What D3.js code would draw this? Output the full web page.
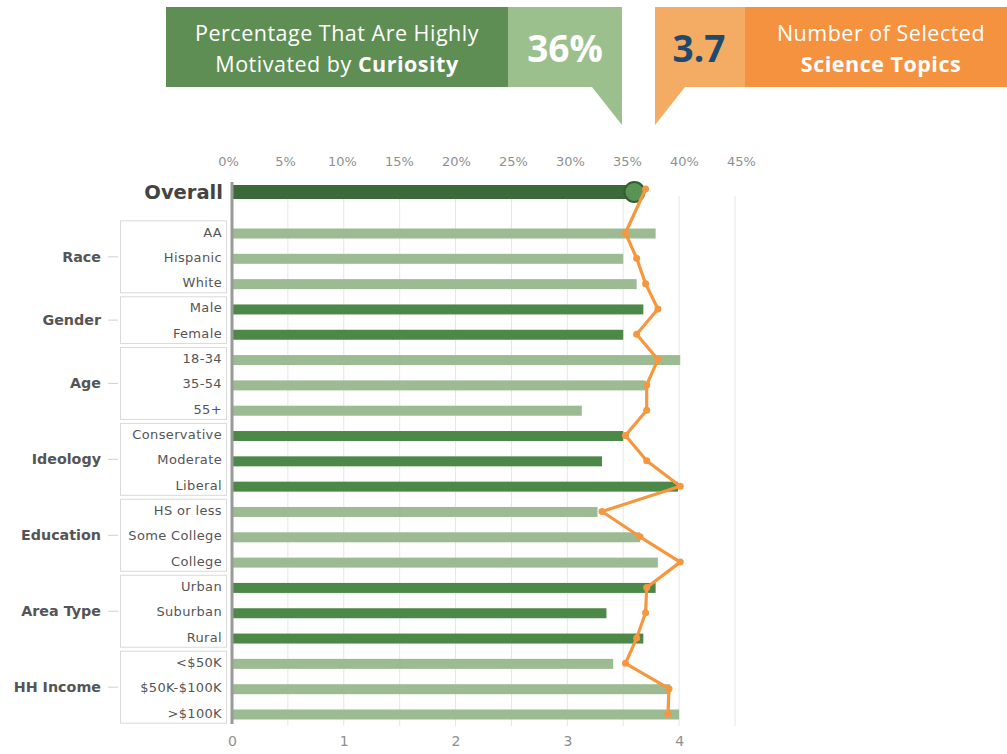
<!DOCTYPE html>
<html>
<head>
<meta charset="utf-8">
<script src="https://cdn.jsdelivr.net/npm/d3@7"></script>
<style>
  html, body { margin: 0; padding: 0; background: #fff; }
  svg { display: block; font-family: "DejaVu Sans", sans-serif; }
</style>
</head>
<body>
<svg id="chart" width="1007" height="754"></svg>
<script>
// Survey groups and their subgroups
const groups = ["Race", "Gender", "Age", "Ideology", "Education", "Area Type", "HH Income"];
const groupMembers = [
  ["AA", "Hispanic", "White"],
  ["Male", "Female"],
  ["18-34", "35-54", "55+"],
  ["Conservative", "Moderate", "Liberal"],
  ["HS or less", "Some College", "College"],
  ["Urban", "Suburban", "Rural"],
  ["<$50K", "$50K-$100K", ">$100K"]
];
const categories = groupMembers.flat();

// Share highly motivated by curiosity (%)
const overallPct = 36;
const curiosityPct = [37.9, 35.0, 36.2, 36.8, 35.0, 40.1, 37.0, 31.3, 35.0, 33.1, 39.9,
                      32.7, 36.5, 38.1, 37.9, 33.5, 36.8, 34.1, 39.2, 40.0];

// Average number of selected science topics
const overallTopics = 3.7;
const topicCounts = [3.52, 3.62, 3.70, 3.81, 3.62, 3.81, 3.71, 3.71, 3.52, 3.71, 4.01,
                     3.31, 3.65, 4.01, 3.71, 3.70, 3.62, 3.52, 3.91, 3.90];

const pctTicks = [0, 5, 10, 15, 20, 25, 30, 35, 40, 45];
const countTicks = [0, 1, 2, 3, 4];
const gridTicks = [0.5, 1, 1.5, 2, 2.5, 3, 3.5, 4, 4.5];

const svg = d3.select("#chart");
const x0 = 232, x1 = 735;
const xPct = d3.scaleLinear().domain([0, 45]).range([x0, x1]);
// the percent tick row is laid out slightly wider than the plot
const xPctLabels = d3.scaleLinear().domain([0, 45]).range([228, 741]);
const xCnt = d3.scaleLinear().domain([0, 4.5]).range([x0, x1]);
const y = d3.scalePoint().domain(categories).range([233, 714]);
const step = y.step();
const yOverall = 192;

const darkGreen = "#3d6a3a", midGreen = "#4c8848", lightGreen = "#9dbb92";
const orange = "#f6963f";
const headFont = "'Open Sans', sans-serif";

// ---------- Header callouts ----------
const head = svg.append("g").style("font-family", headFont);
head.append("rect").attr("x", 166).attr("y", 7).attr("width", 342).attr("height", 80).attr("fill", "#5e8e53");
head.append("path").attr("d", "M508,7 H622 V125 L592,87 H508 Z").attr("fill", "#9cbf8e");
head.append("text").attr("x", 337).attr("y", 41).attr("text-anchor", "middle")
  .attr("fill", "#fff").style("font-size", "21.5px").style("letter-spacing", "0.5px")
  .text("Percentage That Are Highly");
const t1b = head.append("text").attr("x", 337).attr("y", 72).attr("text-anchor", "middle")
  .attr("fill", "#fff").style("font-size", "21.5px").style("letter-spacing", "0.5px");
t1b.append("tspan").text("Motivated by ");
t1b.append("tspan").attr("font-weight", "bold").text("Curiosity");
head.append("text").attr("x", 565).attr("y", 62).attr("text-anchor", "middle").attr("fill", "#fff")
  .attr("font-weight", "bold").style("font-size", "37px").text(overallPct + "%");

head.append("path").attr("d", "M655,7 H745 V87 H685 L655,125 Z").attr("fill", "#f4ab63");
head.append("rect").attr("x", 745).attr("y", 7).attr("width", 262).attr("height", 80).attr("fill", "#f5923f");
head.append("text").attr("x", 699).attr("y", 62).attr("text-anchor", "middle").attr("fill", "#1f4a6e")
  .attr("font-weight", "bold").style("font-size", "37px").text(overallTopics.toFixed(1));
head.append("text").attr("x", 881).attr("y", 41).attr("text-anchor", "middle").attr("fill", "#fff")
  .style("font-size", "21.5px").style("letter-spacing", "0.5px").text("Number of Selected");
head.append("text").attr("x", 881).attr("y", 72).attr("text-anchor", "middle").attr("fill", "#fff")
  .attr("font-weight", "bold").style("font-size", "21.5px").style("letter-spacing", "0.5px")
  .text("Science Topics");

// ---------- Gridlines ----------
svg.append("g").selectAll("line").data(gridTicks).join("line")
  .attr("x1", d => xCnt(d)).attr("x2", d => xCnt(d))
  .attr("y1", 196).attr("y2", 726)
  .attr("stroke", "#e6e6e6").attr("stroke-width", 1);

// ---------- Axes ----------
const topAxis = d3.axisTop(xPctLabels).tickValues(pctTicks).tickFormat(d => d + "%").tickSize(0).tickPadding(0);
const gTop = svg.append("g").attr("transform", "translate(0,166)").call(topAxis);
gTop.select(".domain").remove();
gTop.selectAll("text").attr("fill", "#8f8f8f").style("font-size", "13px")
  .style("font-family", "'DejaVu Sans', sans-serif");

const botAxis = d3.axisBottom(xCnt).tickValues(countTicks).tickFormat(d3.format("d")).tickSize(0).tickPadding(0);
const gBot = svg.append("g").attr("transform", "translate(0,736)").call(botAxis);
gBot.select(".domain").remove();
gBot.selectAll("text").attr("fill", "#8f8f8f").style("font-size", "14px")
  .style("font-family", "'DejaVu Sans', sans-serif");

// ---------- Group boxes and labels ----------
const gGroups = svg.append("g");
groups.forEach((g, i) => {
  const mem = groupMembers[i];
  const top = y(mem[0]) - step / 2 + 0.5;
  const bot = y(mem[mem.length - 1]) + step / 2 - 3.5;
  gGroups.append("rect").attr("x", 120.5).attr("y", top).attr("width", 106).attr("height", bot - top)
    .attr("fill", "none").attr("stroke", "#d9d9d9").attr("stroke-width", 1);
  const mid = (top + bot) / 2;
  gGroups.append("line").attr("x1", 108).attr("x2", 118).attr("y1", mid).attr("y2", mid)
    .attr("stroke", "#d0d0d0").attr("stroke-width", 1);
  gGroups.append("text").attr("x", 101).attr("y", mid).attr("dy", "0.35em").attr("text-anchor", "end")
    .attr("fill", "#555").attr("font-weight", "bold").style("font-size", "14.3px").text(g);
});

svg.append("g").selectAll("text").data(categories).join("text")
  .attr("x", 222).attr("y", d => y(d) - 1).attr("dy", "0.35em").attr("text-anchor", "end")
  .attr("fill", "#555").style("font-size", "13px").style("letter-spacing", "0.35px").text(d => d);

svg.append("text").attr("x", 223).attr("y", yOverall).attr("dy", "0.35em").attr("text-anchor", "end")
  .attr("fill", "#444").attr("font-weight", "bold").style("font-size", "19.5px").text("Overall");

// ---------- Bars ----------
const groupIndex = {};
groupMembers.forEach((m, i) => m.forEach(c => groupIndex[c] = i));
svg.append("g").selectAll("rect").data(categories).join("rect")
  .attr("x", x0).attr("y", d => y(d) - 4.5)
  .attr("width", (d, i) => xPct(curiosityPct[i]) - x0).attr("height", 10)
  .attr("fill", d => groupIndex[d] % 2 === 0 ? lightGreen : midGreen);

svg.append("rect").attr("x", x0).attr("y", yOverall - 7).attr("width", xPct(overallPct) - x0).attr("height", 14)
  .attr("fill", darkGreen);
svg.append("circle").attr("cx", xPct(overallPct)).attr("cy", yOverall).attr("r", 10)
  .attr("fill", "#5a9356").attr("stroke", "#325e30").attr("stroke-width", 2);

// Vertical baseline
svg.append("line").attr("x1", x0).attr("x2", x0).attr("y1", 182).attr("y2", 724)
  .attr("stroke", "#9a9a9a").attr("stroke-width", 3);

// ---------- Topic count line ----------
const pts = [{ v: overallTopics, y: yOverall - 3 }].concat(categories.map((c, i) => ({ v: topicCounts[i], y: y(c) })));
svg.append("path").datum(pts)
  .attr("d", d3.line().x(d => xCnt(d.v)).y(d => d.y))
  .attr("fill", "none").attr("stroke", orange).attr("stroke-width", 3.2).attr("stroke-linejoin", "round");
svg.append("g").selectAll("circle").data(pts).join("circle")
  .attr("cx", d => xCnt(d.v)).attr("cy", d => d.y).attr("r", 3.5).attr("fill", orange);
</script>
</body>
</html>
